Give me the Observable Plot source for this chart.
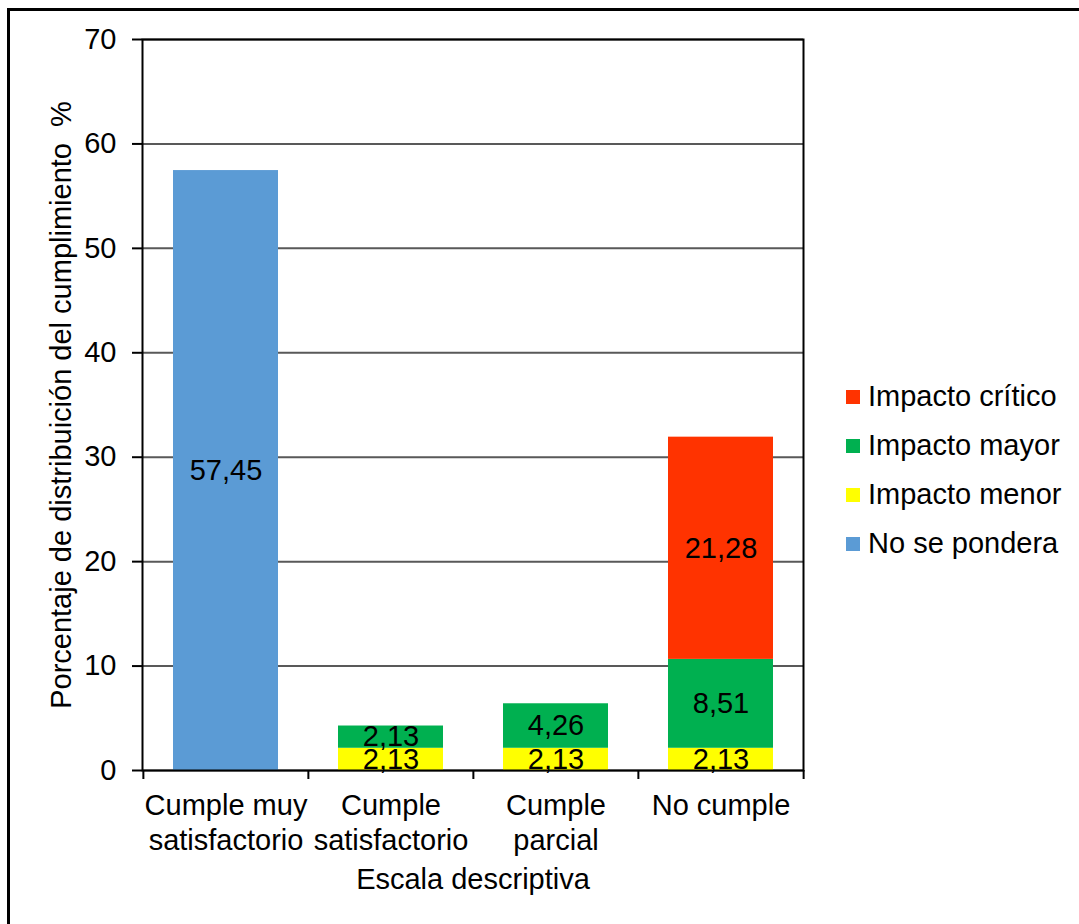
<!DOCTYPE html>
<html>
<head>
<meta charset="utf-8">
<script src="https://cdn.jsdelivr.net/npm/d3@7"></script>
<script src="https://cdn.jsdelivr.net/npm/@observablehq/plot@0.6"></script>
<style>
  html, body { margin: 0; padding: 0; background: #fff; }
  #wrap { position: relative; width: 1079px; height: 924px; overflow: hidden; font-family: "Liberation Sans", Arial, sans-serif; }
  #border { position: absolute; left: 7px; top: 8px; width: 1200px; height: 1100px; border-left: 3px solid #000; border-top: 3px solid #000; box-sizing: border-box; pointer-events: none; }
  #legend { position: absolute; left: 846px; top: 372px; }
  .row { display: flex; align-items: center; height: 49px; font-size: 29px; color: #000; white-space: nowrap; }
  .sw { width: 14px; height: 14px; margin-right: 8px; flex: none; }
</style>
</head>
<body>
<div id="wrap"><div id="chart"></div><div id="legend"></div><div id="border"></div></div>
<script>
// ---- data ----
const categories = ["Cumple muy satisfactorio", "Cumple satisfactorio", "Cumple parcial", "No cumple"];
const categoryLabels = ["Cumple muy\nsatisfactorio", "Cumple\nsatisfactorio", "Cumple\nparcial", "No cumple"];
const series = ["Impacto menor", "Impacto mayor", "Impacto crítico", "No se pondera"];
const seriesColors = ["#FFFF00", "#00B050", "#FF3300", "#5B9BD5"];
const impactoMenor = [0, 2.13, 2.13, 2.13];
const impactoMayor = [0, 2.13, 4.26, 8.51];
const impactoCritico = [0, 0, 0, 21.28];
const noSePondera = [57.45, 0, 0, 0];
const yTicks = [0, 10, 20, 30, 40, 50, 60, 70];
const legendOrder = ["Impacto crítico", "Impacto mayor", "Impacto menor", "No se pondera"];
const yTitle = "Porcentaje de distribuición del cumplimiento  %";
const xTitle = "Escala descriptiva";

// ---- build table ----
const seriesValues = [impactoMenor, impactoMayor, impactoCritico, noSePondera];
const rows = [];
categories.forEach((c, i) => {
  series.forEach((s, j) => {
    const v = seriesValues[j][i];
    if (v > 0) rows.push({category: c, series: s, value: v});
  });
});
const fmt = v => v.toFixed(2).replace(".", ",");

const W = 1079, H = 924;
const mL = 142, mR = 276, mT = 39, mB = 154;
const bw = (W - mL - mR) / categories.length;
const plotH = H - mT - mB;
const font = "Liberation Sans, Arial, sans-serif";
const fs = 29;

const chart = Plot.plot({
  width: W,
  height: H,
  marginLeft: mL,
  marginRight: mR,
  marginTop: mT,
  marginBottom: mB,
  style: {fontFamily: font, fontSize: fs + "px", color: "#000", background: "transparent"},
  x: {domain: categories, padding: 0, axis: null},
  y: {domain: [0, 70], axis: null},
  color: {domain: series, range: seriesColors},
  marks: [
    Plot.ruleY(yTicks, {stroke: "#595959", strokeWidth: 2}),
    Plot.barY(rows, Plot.stackY({x: "category", y: "value", fill: "series", order: null, insetLeft: 30, insetRight: 30})),
    Plot.text(rows, Plot.stackY({x: "category", y: "value", z: "series", order: null, text: d => fmt(d.value), fill: "#000", fontSize: fs})),
    Plot.frame({stroke: "#000", strokeWidth: 2}),
    Plot.axisY(yTicks, {tickSize: 10, tickPadding: 16, fontSize: fs, stroke: "#000", strokeWidth: 2, fill: "#000", label: null}),
    Plot.axisX({tickSize: 0, tickPadding: 20, fontSize: fs, fill: "#000", lineHeight: 1.2, tickFormat: d => categoryLabels[categories.indexOf(d)], label: null}),
    Plot.ruleX(categories, {x: d => d, dx: -bw / 2, stroke: "#000", strokeWidth: 2, insetTop: plotH, insetBottom: -9}),
    Plot.ruleX([categories[categories.length - 1]], {x: d => d, dx: bw / 2, stroke: "#000", strokeWidth: 2, insetTop: plotH, insetBottom: -9}),
    Plot.text([xTitle], {frameAnchor: "bottom", dy: 118, text: d => d, fontSize: fs, fill: "#000"}),
    Plot.text([yTitle], {frameAnchor: "left", dx: 61 - mL, rotate: -90, textAnchor: "middle", text: d => d, fontSize: fs, fill: "#000"})
  ]
});
document.getElementById("chart").appendChild(chart);

// ---- legend ----
const legend = document.getElementById("legend");
legendOrder.forEach(s => {
  const row = document.createElement("div");
  row.className = "row";
  const sw = document.createElement("span");
  sw.className = "sw";
  sw.style.background = seriesColors[series.indexOf(s)];
  const t = document.createElement("span");
  t.textContent = s;
  row.appendChild(sw);
  row.appendChild(t);
  legend.appendChild(row);
});
</script>
</body>
</html>
